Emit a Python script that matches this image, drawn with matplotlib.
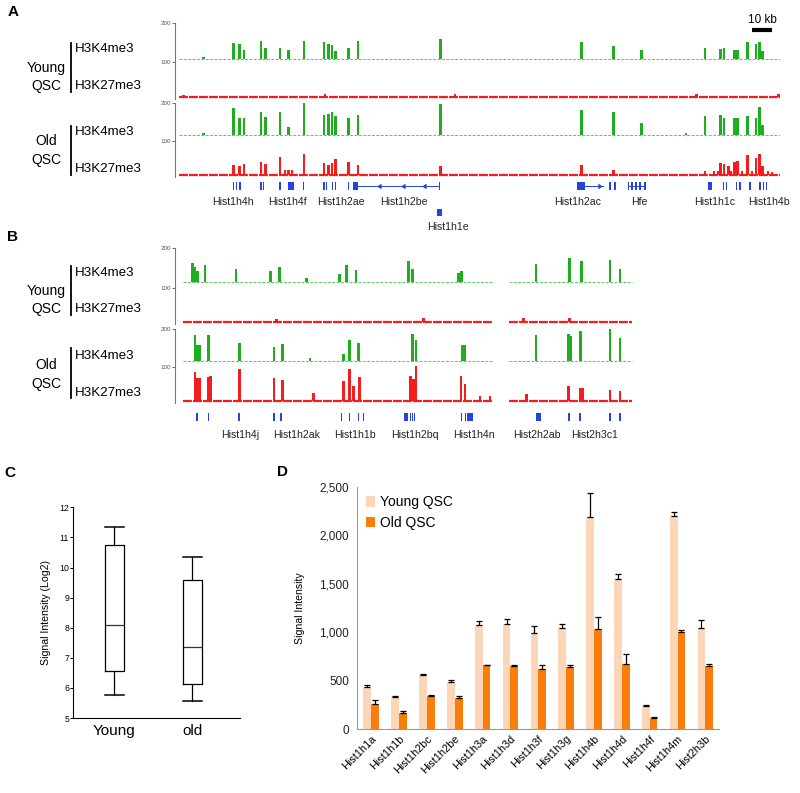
import matplotlib
matplotlib.use('Agg')
import matplotlib.pyplot as plt
from matplotlib.lines import Line2D
from matplotlib.ticker import FuncFormatter

plt.rcParams['font.family'] = ['Liberation Sans', 'DejaVu Sans']

W, H = 800, 793
GREEN = '#1fae1f'
GREEN_BASE = '#5cc85c'
RED = '#f41c1c'
BLUE = '#2443e2'

# ---------------- data ----------------
# genome tracks: (position in kb, height above track baseline)
A_YOUNG_K4 = [(12.7, 7), (27.7, 41), (30.7, 39), (33, 24), (41.5, 47), (43.7, 28), (51, 30),
              (55.3, 24), (63, 48), (73, 43), (75.2, 39), (77, 36), (78.8, 22), (85.2, 28),
              (90, 48), (131.3, 52), (201.8, 43), (217.7, 33), (231.8, 24), (263.5, 28),
              (271.3, 27), (273, 28), (278.2, 24), (279.7, 24), (284.8, 45), (289, 39),
              (290.7, 45), (292.3, 20)]
A_YOUNG_K27 = [(2.8, 4), (73.5, 6), (138.5, 7), (259.3, 6), (300.2, 8)]
A_OLD_K4 = [(12.7, 6), (27.7, 70), (30.7, 44), (33, 46), (41.5, 60), (43.7, 48), (51, 61),
            (55.3, 22), (63, 83), (73, 53), (75.2, 54), (77, 61), (78.8, 50), (85.2, 46),
            (90, 53), (131.3, 81), (201.8, 66), (217.7, 61), (231.8, 32), (254, 6),
            (263.5, 50), (271.3, 52), (273, 44), (278.2, 44), (279.7, 44), (284.8, 50),
            (289, 44), (290.7, 73), (292.3, 26)]
A_OLD_K27 = [(27.7, 25), (30.7, 22), (33, 28), (41.5, 35), (43.7, 29), (51, 48), (53.5, 13),
             (55.3, 13), (57, 13), (63, 55), (73, 31), (75.2, 26), (77, 32), (78.8, 42),
             (85.2, 33), (90, 26), (131.3, 24), (201.8, 26), (217.7, 13), (263.5, 10),
             (268, 9), (270, 9), (271.3, 31), (273, 28), (275.2, 22), (276.5, 9), (278.2, 35),
             (279.7, 37), (282, 9), (284.8, 51), (287, 9), (289, 44), (290.7, 54),
             (292.3, 22), (295, 9), (297, 8)]

B_YOUNG_K4 = [(7.2, 47), (8.5, 39), (9.7, 27), (13.5, 42), (29, 33), (46.3, 29), (50.7, 39),
              (64.3, 10), (80.7, 20), (84.3, 43), (89, 31), (115.2, 53), (117.3, 33),
              (140.2, 24), (141.8, 29), (179, 45), (195.7, 60), (201.8, 54), (216, 56),
              (221, 33)]
B_YOUNG_K27 = [(49.3, 7), (122.7, 10), (172.7, 9), (195.7, 10)]
B_OLD_K4 = [(8.5, 70), (9.7, 43), (10.7, 43), (15.2, 70), (30.7, 49), (48, 37), (52.2, 45),
            (66, 9), (82.7, 19), (85.7, 56), (90.2, 47), (117.3, 71), (119, 56), (142.3, 43),
            (143.5, 43), (179, 70), (195.2, 71), (196.3, 67), (201.3, 80), (216, 90),
            (221, 61)]
B_OLD_K27 = [(8.5, 78), (9.7, 60), (10.7, 60), (15.2, 64), (16.3, 66), (30.7, 84), (48, 62),
             (52.2, 55), (67.7, 21), (82.7, 54), (85.7, 85), (87.7, 40), (90.7, 64),
             (116.3, 66), (117.7, 57), (119, 93), (141.5, 67), (143.5, 46), (151, 13),
             (156, 13), (174.3, 17), (195.2, 39), (201.3, 33), (202.3, 33), (216, 29),
             (221, 27)]

A_SEGMENTS = [(0.5, 301)]
B_SEGMENTS = [(2.5, 157.5), (165.5, 227)]

# gene models (kb)
A_EXONS = [(27.4, 28.0), (29.0, 29.6), (30.7, 31.3), (41.2, 41.8), (42.4, 43.2), (50.7, 51.3),
           (55.2, 58.2), (62.4, 63.0), (72.7, 73.3), (74.0, 74.6), (76.9, 77.5), (78.5, 79.1),
           (84.9, 85.5), (87.7, 90.2), (130.4, 131.0), (199.3, 203.5), (215.7, 216.3),
           (218.2, 218.8), (225.0, 225.6), (226.7, 227.3), (228.7, 229.3), (230.7, 231.3),
           (233.2, 233.8), (265.2, 266.8), (272.4, 273.0), (274.0, 274.6), (279.0, 279.6),
           (280.7, 281.3), (285.7, 286.3), (290.7, 291.3), (292.4, 293.0), (294.0, 294.6)]
A_INTRONS = [(90.2, 130.7), (203.5, 212.7), (225.2, 233.5)]
A_LEFT_MARKS = [100.2, 111.8, 122.7]
A_RIGHT_MARKS = [211.5]
A_SECOND_ROW = [(129.7, 131.8)]
A_GENES = ['Hist1h4h', 'Hist1h4f', 'Hist1h2ae', 'Hist1h2be', 'Hist1h2ac', 'Hfe',
           'Hist1h1c', 'Hist1h4b']
A_GENE_POS = [27.3, 54.5, 81.5, 112.8, 200, 230.5, 268.5, 295.5]
A_SECOND_GENE = ('Hist1h1e', 134.8)

B_EXONS = [(8.8, 10.2), (14.9, 15.5), (30.2, 30.8), (47.7, 48.3), (51.2, 51.8), (81.5, 82.1),
           (85.4, 86.0), (89.9, 90.5), (92.4, 93.0), (113.2, 115.2), (115.8, 116.3),
           (116.9, 117.4), (117.9, 118.5), (141.6, 142.1), (143.3, 143.8), (144.7, 147.7),
           (178.8, 181.5), (194.8, 196.0), (200.7, 201.3), (215.7, 216.3), (220.7, 221.3)]
B_GENES = ['Hist1h4j', 'Hist1h2ak', 'Hist1h1b', 'Hist1h2bq', 'Hist1h4n', 'Hist2h2ab',
           'Hist2h3c1']
B_GENE_POS = [31, 59.3, 88.5, 118.3, 148, 179.5, 208.5]

# panel C box plot (log2 signal)
C_GROUPS = ['Young', 'old']
C_WHISLO = [5.78, 5.58]
C_Q1 = [6.57, 6.13]
C_MED = [8.09, 7.37]
C_Q3 = [10.76, 9.59]
C_WHISHI = [11.36, 10.36]

# panel D bar chart
D_GENES = ['Hist1h1a', 'Hist1h1b', 'Hist1h2bc', 'Hist1h2be', 'Hist1h3a', 'Hist1h3d',
           'Hist1h3f', 'Hist1h3g', 'Hist1h4b', 'Hist1h4d', 'Hist1h4f', 'Hist1h4m', 'Hist2h3b']
D_YOUNG = [433, 337, 556, 491, 1075, 1082, 996, 1047, 2184, 1545, 244, 2198, 1047]
D_YOUNG_ERR = [24, 6, 14, 21, 41, 55, 69, 35, 247, 55, 3, 41, 76]
D_OLD = [261, 172, 343, 323, 663, 652, 618, 646, 1037, 673, 113, 1006, 652]
D_OLD_ERR = [41, 20, 7, 17, 3, 7, 45, 13, 124, 107, 14, 17, 24]


def px_axes(fig, left, top, right, bottom):
    return fig.add_axes([left / W, 1 - bottom / H, (right - left) / W, (bottom - top) / H])


def fig_text(fig, x, y, s, **kw):
    fig.text(x / W, 1 - y / H, s, **kw)


def fig_vline(fig, x, y0, y1):
    fig.add_artist(Line2D([x / W, x / W], [1 - y0 / H, 1 - y1 / H], color='black', lw=1.3))


def draw_block(ax, segments, k4, k27, k4_base, k27_base, ylo):
    ax.set_xlim(-1.5, 301)
    ax.set_ylim(ylo, 200)
    for s, e in segments:
        ax.plot([s, e], [k4_base, k4_base], color=GREEN_BASE, lw=0.7, ls=(0, (3, 1.5)))
        ax.plot([s, e], [k27_base, k27_base], color=RED, lw=1.6, ls=(0, (4, 0.5)))
    for peaks, base, color in ((k4, k4_base, GREEN), (k27, k27_base, RED)):
        ax.bar([p[0] for p in peaks], [p[1] for p in peaks], width=1.35, bottom=base,
               color=color, linewidth=0)
    for side in ('top', 'right', 'bottom'):
        ax.spines[side].set_visible(False)
    ax.spines['left'].set_color('#777777')
    ax.spines['left'].set_linewidth(0.8)
    ax.set_xticks([])
    ax.set_yticks([100, 200])
    ax.tick_params(axis='y', labelsize=4.5, length=2, width=0.6, colors='#555555', pad=1)


def draw_genes(ax, exons, introns, names, pos, row_y, label_y):
    ax.set_xlim(-1.5, 301)
    ax.axis('off')
    for s, e in introns:
        ax.plot([s, e], [row_y, row_y], color=BLUE, lw=0.7)
    ax.bar([(s + e) / 2 for s, e in exons], 8.5, width=[e - s for s, e in exons],
           bottom=row_y - 4.25, color=BLUE, linewidth=0)
    for name, x in zip(names, pos):
        ax.text(x, label_y, name, ha='center', va='center', fontsize=7.6, color='#222222')


def sample_labels(fig, young_y, old_y):
    for name, (y1, y2, b0, b1, yk4, yk27) in (('Young', young_y), ('Old', old_y)):
        fig_text(fig, 46, y1, name, ha='center', va='center', fontsize=10)
        fig_text(fig, 46, y2, 'QSC', ha='center', va='center', fontsize=10)
        fig_vline(fig, 70.5, b0, b1)
        fig_text(fig, 75, yk4, 'H3K4me3', ha='left', va='center', fontsize=9.6)
        fig_text(fig, 75, yk27, 'H3K27me3', ha='left', va='center', fontsize=9.6)


fig = plt.figure(figsize=(W / 100, H / 100), dpi=100)

# ---------------- panel A ----------------
ax = px_axes(fig, 175, 23, 780, 99)
draw_block(ax, A_SEGMENTS, A_YOUNG_K4, A_YOUNG_K27, 107, 11, 5)
ax.plot([287, 297], [183, 183], color='black', lw=3, solid_capstyle='butt', clip_on=False)
ax.text(292, 208, '10 kb', ha='center', va='center', fontsize=8.5, clip_on=False)
ax = px_axes(fig, 175, 103.3, 780, 177.1)
draw_block(ax, A_SEGMENTS, A_OLD_K4, A_OLD_K27, 116.6, 12, 6)

ax = px_axes(fig, 175, 178, 780, 234)
ax.set_ylim(234, 178)
draw_genes(ax, A_EXONS, A_INTRONS, A_GENES, A_GENE_POS, 186, 202)
ax.plot(A_LEFT_MARKS, [186] * len(A_LEFT_MARKS), ls='none', marker=4, ms=2.5, color=BLUE)
ax.plot(A_RIGHT_MARKS, [186] * len(A_RIGHT_MARKS), ls='none', marker=5, ms=2.5, color=BLUE)
ax.bar([(s + e) / 2 for s, e in A_SECOND_ROW], 7, width=[e - s for s, e in A_SECOND_ROW],
       bottom=208.5, color=BLUE, linewidth=0)
ax.text(A_SECOND_GENE[1], 226.5, A_SECOND_GENE[0], ha='center', va='center',
        fontsize=7.6, color='#222222')

sample_labels(fig, (68, 86, 43, 92, 49, 86), (141, 160, 126, 175, 132, 169))
fig_text(fig, 13, 12, 'A', ha='center', va='center', fontsize=11, fontweight='bold')

# ---------------- panel B ----------------
ax = px_axes(fig, 175, 248.3, 780, 324.3)
draw_block(ax, B_SEGMENTS, B_YOUNG_K4, B_YOUNG_K27, 115, 16.5, 10)
ax = px_axes(fig, 175, 329.3, 780, 403)
draw_block(ax, B_SEGMENTS, B_OLD_K4, B_OLD_K27, 115.2, 9, 3)

ax = px_axes(fig, 175, 405, 780, 445)
ax.set_ylim(445, 405)
draw_genes(ax, B_EXONS, [], B_GENES, B_GENE_POS, 417, 435.5)

sample_labels(fig, (291, 309.3, 265.7, 315, 273.3, 309.3), (365, 384, 348.3, 398.3, 355.7, 393.3))
fig_text(fig, 13, 237, 'B', ha='center', va='center', fontsize=11, fontweight='bold')

# ---------------- panel C ----------------
ax = px_axes(fig, 73.3, 507.3, 240, 718)
stats = [dict(label=g, whislo=lo, q1=q1, med=m, q3=q3, whishi=hi, fliers=[])
         for g, lo, q1, m, q3, hi in zip(C_GROUPS, C_WHISLO, C_Q1, C_MED, C_Q3, C_WHISHI)]
ax.bxp(stats, positions=[1, 2], widths=0.25, capwidths=0.25, showfliers=False,
       boxprops=dict(color='black', lw=0.9), whiskerprops=dict(color='black', lw=0.9),
       capprops=dict(color='black', lw=1.1), medianprops=dict(color='#333333', lw=0.9))
ax.set_xlim(0.474, 2.61)
ax.set_ylim(5, 12)
ax.set_yticks(range(5, 13))
ax.spines['top'].set_visible(False)
ax.spines['right'].set_visible(False)
ax.tick_params(axis='y', labelsize=6.3, length=2, width=0.7, pad=1)
ax.tick_params(axis='x', labelsize=11, length=0, pad=4)
ax.set_ylabel('Signal Intensity (Log2)', fontsize=7.6, labelpad=6)
fig_text(fig, 10, 473, 'C', ha='center', va='center', fontsize=11, fontweight='bold')

# ---------------- panel D ----------------
ax = px_axes(fig, 357.3, 486.7, 719.3, 729.3)
x = list(range(len(D_GENES)))
xy = [i - 0.14 for i in x]
xo = [i + 0.14 for i in x]
ax.bar(xy, D_YOUNG, width=0.28, color='#fdd5b7', linewidth=0, label='Young QSC')
ax.bar(xo, D_OLD, width=0.28, color='#f97d0b', linewidth=0, label='Old QSC')
ax.errorbar(xy, D_YOUNG, yerr=[[0] * len(x), D_YOUNG_ERR], fmt='none', ecolor='black',
            elinewidth=0.9, capsize=2.5, capthick=0.9)
ax.errorbar(xo, D_OLD, yerr=[[0] * len(x), D_OLD_ERR], fmt='none', ecolor='black',
            elinewidth=0.9, capsize=2.5, capthick=0.9)
ax.set_xlim(-0.5, 12.5)
ax.set_ylim(0, 2500)
ax.set_yticks(range(0, 2501, 500))
ax.yaxis.set_major_formatter(FuncFormatter(lambda v, p: format(int(v), ',')))
ax.set_xticks(x)
ax.set_xticklabels(D_GENES, rotation=45, ha='right', rotation_mode='anchor', fontsize=7.8)
for side in ('top', 'right'):
    ax.spines[side].set_visible(False)
for side in ('left', 'bottom'):
    ax.spines[side].set_color('#999999')
ax.tick_params(axis='y', labelsize=8.5, length=0, pad=6, colors='#222222')
ax.tick_params(axis='x', length=0, pad=3)
ax.set_ylabel('Signal Intensity', fontsize=7.6, labelpad=10)
ax.legend(loc='upper left', frameon=False, fontsize=10, handlelength=0.7, handleheight=0.8,
          handletextpad=0.3, borderaxespad=0.2, labelspacing=0.5)
fig_text(fig, 283, 472, 'D', ha='center', va='center', fontsize=11, fontweight='bold')

fig.savefig('out.png', dpi=100)
